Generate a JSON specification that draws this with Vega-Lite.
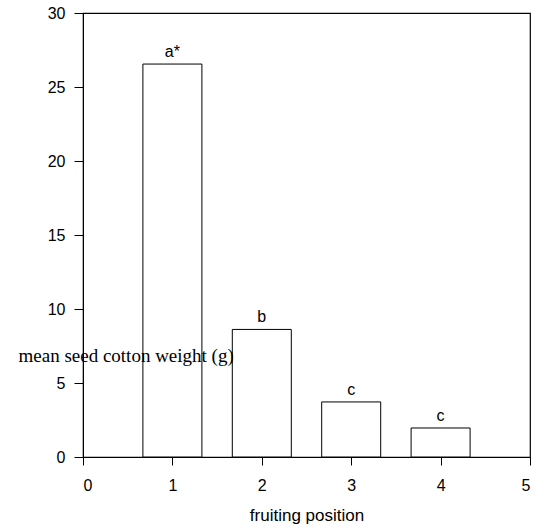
{
  "$schema": "https://vega.github.io/schema/vega-lite/v6.json",
  "autosize": "none",
  "width": 447,
  "height": 444,
  "padding": {"left": 83, "top": 13, "right": 12, "bottom": 75},
  "background": "white",
  "config": {
    "view": {"stroke": "black", "strokeWidth": 1.2},
    "font": "Liberation Sans"
  },
  "data": {
    "values": [
      {"position": 1, "weight": 26.55, "letter": "a*"},
      {"position": 2, "weight": 8.62, "letter": "b"},
      {"position": 3, "weight": 3.72, "letter": "c"},
      {"position": 4, "weight": 1.96, "letter": "c"}
    ]
  },
  "layer": [
    {
      "mark": {"type": "bar", "width": 59, "fill": "white", "stroke": "black", "strokeWidth": 1},
      "encoding": {
        "x": {
          "field": "position", "type": "quantitative",
          "scale": {"domain": [0, 5], "nice": false, "zero": false, "padding": 0},
          "axis": {
            "title": "fruiting position", "values": [0, 1, 2, 3, 4, 5], "format": "d", "grid": false,
            "domainColor": "black", "tickColor": "black", "tickSize": 8,
            "labelColor": "black", "labelFontSize": 16, "labelPadding": 12, "labelFont": "Liberation Sans",
            "titleColor": "black", "titleFontSize": 17, "titleFontWeight": "normal", "titlePadding": 14, "titleFont": "Liberation Sans"
          }
        },
        "y": {
          "field": "weight", "type": "quantitative",
          "scale": {"domain": [0, 30], "nice": false},
          "axis": {
            "title": "mean seed cotton weight (g)", "values": [0, 5, 10, 15, 20, 25, 30], "grid": false,
            "domainColor": "black", "tickColor": "black", "tickSize": 9,
            "labelColor": "black", "labelFontSize": 16, "labelPadding": 9, "labelFont": "Liberation Sans",
            "titleColor": "black", "titleFontSize": 19, "titleFontWeight": "normal", "titleFont": "Liberation Serif",
            "titleAngle": 0, "titleAlign": "left", "titleBaseline": "alphabetic",
            "titleX": -65, "titleY": 348, "zindex": 1
          }
        }
      }
    },
    {
      "mark": {"type": "text", "baseline": "alphabetic", "dy": -7, "fontSize": 16, "color": "black", "font": "Liberation Sans"},
      "encoding": {
        "x": {"field": "position", "type": "quantitative"},
        "y": {"field": "weight", "type": "quantitative"},
        "text": {"field": "letter"}
      }
    }
  ]
}
